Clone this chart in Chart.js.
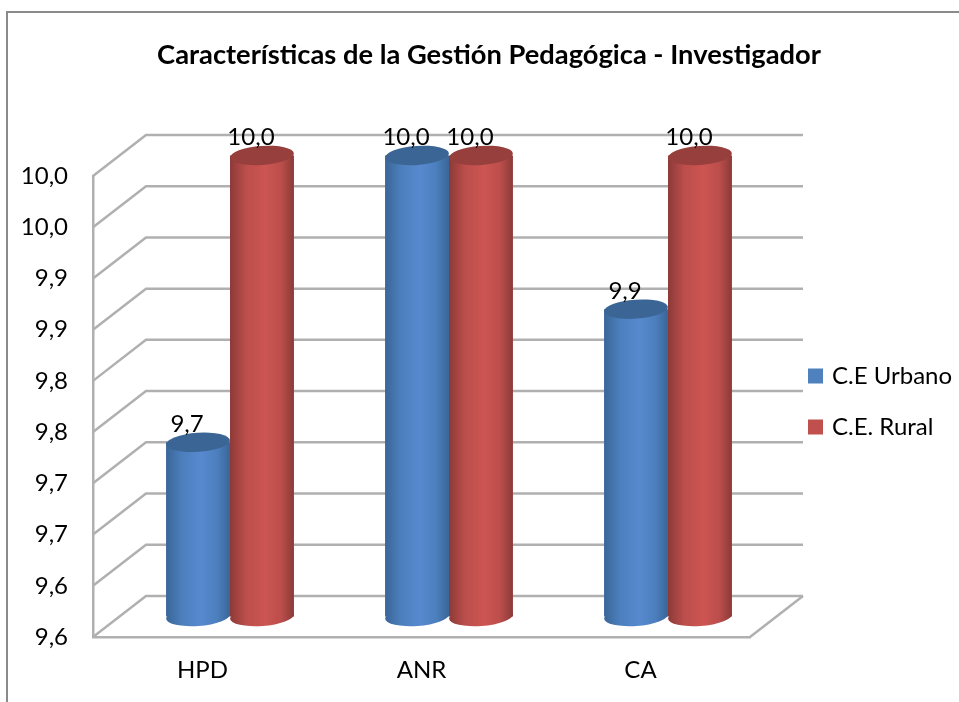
<!DOCTYPE html>
<html><head><meta charset="utf-8">
<style>html,body{margin:0;padding:0;background:#fff}canvas{display:block}</style>
<script src="https://cdn.jsdelivr.net/npm/chart.js@4"></script>
</head><body><canvas id="c" width="959" height="702"></canvas>
<script>
const categories = ['HPD','ANR','CA'];
const urbanValues = [9.72,10,9.85];
const ruralValues = [10,10,10];
const urbanLabels = ['9,7','10,0','9,9'];
const ruralLabels = ['10,0','10,0','10,0'];
const yTickLabels = ['9,6','9,6','9,7','9,7','9,8','9,8','9,9','9,9','10,0','10,0'];
const titleText = 'Características de la Gestión Pedagógica - Investigador';
const Y_MIN = 9.55, Y_MAX = 10, Y_STEP = 0.05;
const FONT = 'Lato, Carlito, Calibri, sans-serif';
const GRID = '#b0b0b0';
const DEPTH_X = 53, DEPTH_Y = 41, BAR_DX = 27.5, BAR_DY = 20.5;
const CAT_PCT = 0.584;
const RY = 9.5, RX_TILT = -0.07;

const palettes = [
  {solid:'#4f81bd', edge:'#3a6698', side:'#4c7fbd', mid:'#5789cf', cap:'#3b6595'},
  {solid:'#c0504d', edge:'#8c3a38', side:'#bb4e4b', mid:'#cd5552', cap:'#963f3c'}
];
function sideFill(c){
  const pal = palettes[c.datasetIndex];
  if (c.type !== 'data') return pal.solid;
  const x = c.chart.scales.x;
  if (!x) return pal.solid;
  const w = x.width/categories.length*CAT_PCT/2;
  const mid = x.getPixelForValue(c.dataIndex) + (c.datasetIndex-0.5)*w;
  if (!isFinite(mid) || !isFinite(w)) return pal.solid;
  const g = c.chart.ctx.createLinearGradient(mid-w/2,0,mid+w/2,0);
  g.addColorStop(0,pal.edge); g.addColorStop(0.25,pal.side);
  g.addColorStop(0.55,pal.mid); g.addColorStop(0.8,pal.side); g.addColorStop(1,pal.edge);
  return g;
}
const scene = {
  id:'scene',
  beforeDraw(chart){
    const ctx = chart.ctx;
    ctx.save();
    ctx.strokeStyle='#8a8a8a'; ctx.lineWidth=2;
    ctx.beginPath(); ctx.moveTo(7,702); ctx.lineTo(7,12); ctx.lineTo(959,12); ctx.stroke();
    ctx.restore();
  },
  afterLayout(chart){
    const l = chart.legend;
    l.left=784; l.right=959; l.top=337; l.bottom=470;
    const t = chart.titleBlock;
    t.left=19; t.right=959;
  },
  beforeDatasetDraw(){ return false; },
  beforeDatasetsDraw(chart){
    const ctx = chart.ctx, {x:xs,y:ys} = chart.scales;
    const L = xs.left, R = xs.right, B = ys.bottom;
    ctx.save();
    ctx.strokeStyle=GRID; ctx.lineWidth=2.5;
    ys.ticks.forEach(t=>{
      const y = ys.getPixelForValue(t.value);
      ctx.beginPath(); ctx.moveTo(L,y); ctx.lineTo(L+DEPTH_X,y-DEPTH_Y); ctx.lineTo(R+DEPTH_X,y-DEPTH_Y); ctx.stroke();
    });
    ctx.beginPath(); ctx.moveTo(R,B); ctx.lineTo(R+DEPTH_X,B-DEPTH_Y); ctx.stroke();
    ctx.translate(BAR_DX,-BAR_DY);
    [0,1].forEach(di=>{
      const meta = chart.getDatasetMeta(di), pal = palettes[di];
      meta.data.forEach((bar,i)=>{
        const p = bar.getProps(['x','base','width'],true);
        ctx.fillStyle = sideFill({type:'data',chart,datasetIndex:di,dataIndex:i});
        ctx.beginPath(); ctx.ellipse(p.x,p.base,p.width/2,RY,RX_TILT,0,Math.PI*2); ctx.fill();
      });
      meta.controller.draw();
      meta.data.forEach(bar=>{
        const p = bar.getProps(['x','y','width'],true);
        ctx.fillStyle = pal.cap;
        ctx.beginPath(); ctx.ellipse(p.x,p.y,p.width/2,RY,RX_TILT,0,Math.PI*2); ctx.fill();
      });
    });
    ctx.fillStyle='#000'; ctx.font='24px '+FONT; ctx.textAlign='center'; ctx.textBaseline='middle';
    [urbanLabels,ruralLabels].forEach((labels,di)=>{
      chart.getDatasetMeta(di).data.forEach((bar,i)=>{
        const p = bar.getProps(['x','y'],true);
        ctx.fillText(labels[i],p.x-11,p.y-18);
      });
    });
    ctx.restore();
  }
};
new Chart(document.getElementById('c'),{
  type:'bar',
  plugins:[scene],
  data:{labels:categories,datasets:[
    {label:'C.E Urbano',data:urbanValues,base:Y_MIN,backgroundColor:sideFill,borderWidth:0,categoryPercentage:CAT_PCT,barPercentage:1},
    {label:'C.E. Rural',data:ruralValues,base:Y_MIN,backgroundColor:sideFill,borderWidth:0,categoryPercentage:CAT_PCT,barPercentage:1}
  ]},
  options:{
    responsive:false,animation:false,
    layout:{padding:{left:0,right:209,top:0,bottom:0}},
    plugins:{
      tooltip:{enabled:false},
      title:{display:true,text:titleText,color:'#000',align:'center',
        font:{family:FONT,size:27.3,weight:'bold',lineHeight:1.2},padding:{top:39,bottom:104.2}},
      legend:{position:'chartArea',align:'start',
        labels:{font:{family:FONT,size:24},color:'#000',boxWidth:9,boxHeight:9,padding:27,
          generateLabels(chart){
            return chart.data.datasets.map((d,i)=>({text:d.label,fillStyle:palettes[i].solid,strokeStyle:palettes[i].solid,
              lineWidth:6,hidden:false,datasetIndex:i}));
          }}}
    },
    scales:{
      x:{grid:{display:false},border:{display:true,color:GRID,width:2.5},
        ticks:{color:'#000',font:{family:FONT,size:24},padding:11,maxRotation:0},
        afterFit(s){s.height=65;}},
      y:{min:Y_MIN,max:Y_MAX,grid:{display:false,drawTicks:false},border:{display:true,color:GRID,width:2.5},
        ticks:{stepSize:Y_STEP,color:'#000',font:{family:FONT,size:24},padding:25,autoSkip:false,
          callback(v,i){return yTickLabels[i];}},
        afterFit(s){s.width=93;}}
    }
  }
});
</script></body></html>
